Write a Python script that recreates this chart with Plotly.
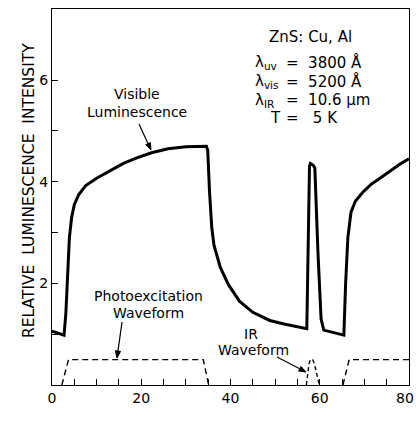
import math
import plotly.graph_objects as go

# ---- data ----
# Visible luminescence (relative intensity) vs time tau (msec)
lum_t = [0, 2.7, 3.1, 3.5, 3.9, 4.4, 5.0, 6.0, 7.5, 10, 13, 16, 19, 22.3, 26, 30, 34.6,
         34.9, 35.3, 35.8, 36.3, 37.7, 39.5, 42, 45, 48.8, 52, 55, 57.1,
         57.7, 57.9, 58.5, 58.9, 59.6, 60.3, 60.9, 65.4,
         65.8, 66.3, 67.0, 68.0, 69.7, 71.5, 73.5, 76, 78, 80]
lum_y = [1.06, 0.98, 1.4, 2.2, 2.9, 3.3, 3.55, 3.75, 3.92, 4.07, 4.22, 4.36, 4.47, 4.57, 4.65, 4.69, 4.70,
         4.62, 3.8, 3.1, 2.75, 2.32, 1.98, 1.65, 1.43, 1.27, 1.2, 1.15, 1.11,
         4.3, 4.36, 4.33, 4.27, 2.6, 1.3, 1.08, 0.98,
         2.0, 2.9, 3.4, 3.62, 3.8, 3.95, 4.07, 4.23, 4.35, 4.45]

# Photoexcitation waveform (None separates pulses)
pe_t = [2.2, 3.7, 33.9, 35.1, None, 65.2, 66.6, 80]
pe_y = [0, 0.5, 0.5, 0, None, 0, 0.5, 0.5]

# IR waveform
ir_t = [57.0, 57.6, 57.9, 58.4, 58.8, 59.9]
ir_y = [0, 0.42, 0.5, 0.5, 0.42, 0]

x_ticks = [0, 20, 40, 60]
x_last = 80
x_minor = [5, 10, 15, 25, 30, 35, 45, 50, 55, 65, 70, 75]
y_ticks = [2, 4, 6]
y_minor = [1, 3, 5]

# ---- layout geometry (pixel -> data helpers for annotations) ----
W, H = 416, 427
L, R, T, B = 52, 7, 9, 42
XR = [0, 80]
YR = [0, 7.40]
pw = W - L - R
ph = H - T - B


def px_x(px):
    return XR[0] + (px - L) / pw * (XR[1] - XR[0])


def px_y(py):
    return YR[0] + (H - B - py) / ph * (YR[1] - YR[0])


FONT = "DejaVu Sans"

fig = go.Figure()
fig.add_trace(go.Scatter(x=lum_t, y=lum_y, mode="lines",
                         line=dict(color="black", width=3), hoverinfo="skip"))
fig.add_trace(go.Scatter(x=pe_t, y=pe_y, mode="lines", connectgaps=False,
                         line=dict(color="black", width=1.4, dash="6px,4px"), hoverinfo="skip"))
fig.add_trace(go.Scatter(x=ir_t, y=ir_y, mode="lines",
                         line=dict(color="black", width=1.4, dash="4px,3px"), hoverinfo="skip"))

ann = []
shapes = []


def text(px, py, s, xanchor="center", size=14):
    ann.append(dict(x=px_x(px), y=px_y(py), xref="x", yref="y", text=s,
                    showarrow=False, xanchor=xanchor, yanchor="middle",
                    font=dict(family=FONT, size=size, color="black")))


def arrow(tail, tip, head=7.0, half=2.6):
    dx, dy = tip[0] - tail[0], tip[1] - tail[1]
    ln = math.hypot(dx, dy)
    ux, uy = dx / ln, dy / ln
    nx, ny = -uy, ux
    bx, by = tip[0] - ux * head, tip[1] - uy * head
    shapes.append(dict(type="line", xref="x", yref="y",
                       x0=px_x(tail[0]), y0=px_y(tail[1]), x1=px_x(bx), y1=px_y(by),
                       line=dict(color="black", width=1.2)))
    p1 = (bx + nx * half, by + ny * half)
    p2 = (bx - nx * half, by - ny * half)
    path = "M {},{} L {},{} L {},{} Z".format(px_x(tip[0]), px_y(tip[1]),
                                              px_x(p1[0]), px_y(p1[1]),
                                              px_x(p2[0]), px_y(p2[1]))
    shapes.append(dict(type="path", xref="x", yref="y", path=path,
                       fillcolor="black", line=dict(color="black", width=1)))


text(137, 94, "Visible")
text(137, 112, "Luminescence")
arrow((139, 124), (151, 150))

text(148, 296, "Photoexcitation")
text(148, 313, "Waveform")
arrow((122, 322), (117, 358))

text(251, 334, "IR")
text(253, 350, "Waveform")
arrow((277, 357), (306, 372))

text(310, 37, "ZnS: Cu, Al", size=15)
text(253, 62, "λ<sub>uv</sub>", xanchor="left", size=15)
text(284, 62, "=  3800 Å", xanchor="left", size=15)
text(253, 81, "λ<sub>vis</sub>", xanchor="left", size=15)
text(284, 81, "=  5200 Å", xanchor="left", size=15)
text(253, 100, "λ<sub>IR</sub>", xanchor="left", size=15)
text(284, 100, "=  10.6 μm", xanchor="left", size=15)
text(275, 118, "T", size=15)
text(284, 118, "=   5 K", xanchor="left", size=15)

# last x tick label, kept inside the picture's right edge
ann.append(dict(x=x_last, y=0, xref="x", yref="y", text=str(x_last), showarrow=False,
                xanchor="right", yanchor="top", xshift=7, yshift=-3,
                font=dict(family=FONT, size=14, color="black")))

# axis titles
ann.append(dict(x=(18 - L) / pw, y=(H - B - 191) / ph, xref="paper", yref="paper",
                text="RELATIVE  LUMINESCENCE  INTENSITY",
                showarrow=False, textangle=-90, font=dict(family=FONT, size=15.5, color="black")))
ann.append(dict(x=px_x(231), y=px_y(418), xref="x", yref="y", text="τ (msec)",
                showarrow=False, yanchor="middle", font=dict(family=FONT, size=14, color="black")))

fig.update_layout(
    width=W, height=H,
    margin=dict(l=L, r=R, t=T, b=B),
    paper_bgcolor="white", plot_bgcolor="white",
    showlegend=False,
    annotations=ann,
    shapes=shapes,
    xaxis=dict(range=XR, tickvals=x_ticks, ticktext=[str(v) for v in x_ticks],
               ticks="inside", ticklen=6, tickwidth=1, tickcolor="black",
               minor=dict(tickvals=x_minor, ticks="inside", ticklen=6, tickwidth=1, tickcolor="black"),
               showline=True, linecolor="black", linewidth=1.3, mirror=True,
               showgrid=False, zeroline=False,
               tickfont=dict(family=FONT, size=14, color="black")),
    yaxis=dict(range=YR, tickvals=y_ticks, ticktext=[str(v) for v in y_ticks],
               ticks="inside", ticklen=6, tickwidth=1, tickcolor="black",
               minor=dict(tickvals=y_minor, ticks="inside", ticklen=6, tickwidth=1, tickcolor="black"),
               showline=True, linecolor="black", linewidth=1.3, mirror=True,
               showgrid=False, zeroline=False,
               tickfont=dict(family=FONT, size=14, color="black")),
)

fig.write_html("out.html")
